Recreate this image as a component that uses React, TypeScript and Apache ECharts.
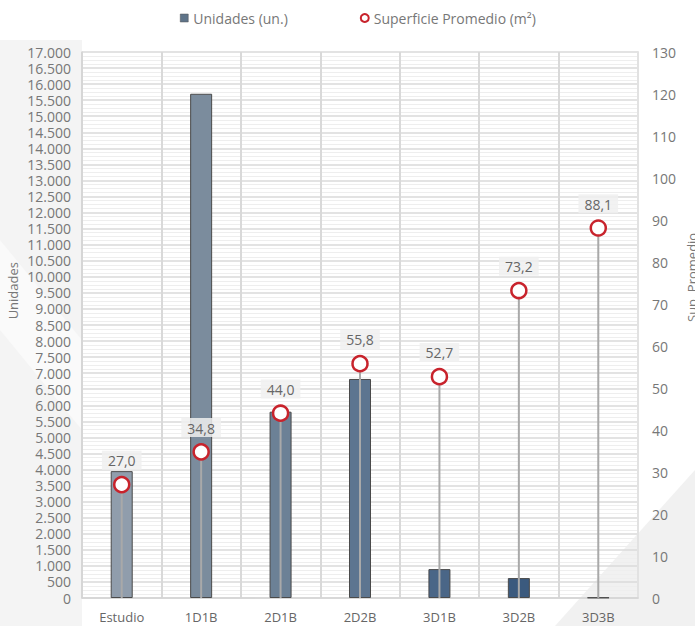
import React, { useEffect, useRef } from "react";
import * as echarts from "echarts";

const categories = ["Estudio", "1D1B", "2D1B", "2D2B", "3D1B", "3D2B", "3D3B"];
const unidades = [3950, 15700, 5800, 6820, 900, 620, 15];
const superficie = [27.0, 34.8, 44.0, 55.8, 52.7, 73.2, 88.1];
const barColors = ["#909dac", "#7b8c9d", "#6c8196", "#5d7590", "#4a6687", "#3b5a7e", "#2f4f74"];
const leftMax = 17000;
const leftInterval = 500;
const rightMax = 130;
const rightInterval = 10;

const fmtThousands = (v: number) => String(v).replace(/\B(?=(\d{3})+(?!\d))/g, ".");
const fmtDec = (v: number) => v.toFixed(1).replace(".", ",");

export default function App() {
  const ref = useRef<HTMLDivElement>(null);
  useEffect(() => {
    if (!ref.current) return;
    const chart = echarts.init(ref.current, undefined, { renderer: "svg" });
    const font = "'Open Sans', 'Noto Sans', sans-serif";
    chart.setOption({
      animation: false,
      backgroundColor: "#ffffff",
      textStyle: { fontFamily: font },
      graphic: [
        {
          type: "polygon",
          z: -10,
          silent: true,
          shape: { points: [[0, 40], [82, 40], [82, 626], [0, 626]] },
          style: { fill: "#f4f4f4" },
        },
        {
          type: "polygon",
          z: -9,
          silent: true,
          shape: { points: [[0, 240], [0, 330], [82, 430], [82, 340]] },
          style: { fill: "#fafafa" },
        },
        {
          type: "polygon",
          z: -10,
          silent: true,
          shape: { points: [[695, 470], [695, 626], [555, 626]] },
          style: { fill: "#f1f1f1" },
        },
        {
          type: "text",
          left: 6,
          top: 262,
          rotation: Math.PI / 2,
          silent: true,
          style: { text: "Unidades", fill: "#777", font: `13px ${font}` },
        },
        {
          type: "text",
          x: 698,
          y: 322,
          rotation: Math.PI / 2,
          silent: true,
          style: { text: "Sup. Promedio", fill: "#777", font: `13px ${font}`, textVerticalAlign: "bottom" },
        },
      ],
      legend: {
        top: 11,
        left: 180,
        itemGap: 72,
        itemWidth: 8,
        itemHeight: 8,
        padding: 0,
        textStyle: { color: "#777", fontSize: 14, fontFamily: font },
        data: [
          { name: "Unidades (un.)", icon: "rect", itemStyle: { color: "#5f7489", borderColor: "#555", borderWidth: 0.5 } },
          { name: "Superficie Promedio (m²)", icon: "circle", itemStyle: { color: "#fff", borderColor: "#c8232c", borderWidth: 2 } },
        ],
      },
      grid: { left: 82, right: 57, top: 52, bottom: 28, containLabel: false },
      xAxis: {
        type: "category",
        data: categories,
        axisTick: { show: false },
        axisLine: { show: true, lineStyle: { color: "#d4d4d4", width: 1.5 } },
        axisLabel: { color: "#666", fontSize: 13, margin: 12, fontFamily: font },
        splitLine: { show: true, interval: 0, lineStyle: { color: "#d9d9d9", width: 2 } },
      },
      yAxis: [
        {
          type: "value",
          min: 0,
          max: leftMax,
          interval: leftInterval,
          axisLine: { show: true, lineStyle: { color: "#d4d4d4", width: 1.5 } },
          axisTick: { show: false },
          axisLabel: {
            color: "#777",
            fontSize: 14,
            lineHeight: 14,
            margin: 11,
            formatter: (v: number) => fmtThousands(v),
            fontFamily: font,
          },
          splitLine: { show: true, lineStyle: { color: "#dadada", width: 1.5 } },
          minorTick: { show: false, splitNumber: 4 },
          minorSplitLine: { show: true, lineStyle: { color: "#eeeeee", width: 1 } },
        },
        {
          type: "value",
          min: 0,
          max: rightMax,
          interval: rightInterval,
          position: "right",
          axisLine: { show: true, lineStyle: { color: "#e2e2e2", width: 2 } },
          axisTick: { show: false },
          axisLabel: { color: "#777", fontSize: 14, margin: 14, fontFamily: font },
          splitLine: { show: false },
        },
      ],
      series: [
        {
          name: "Unidades (un.)",
          type: "bar",
          yAxisIndex: 0,
          barWidth: 22,
          z: 2,
          itemStyle: { color: "#5f7489", borderColor: "#4a4a4a", borderWidth: 1 },
          data: unidades.map((v, i) => ({ value: v, itemStyle: { color: barColors[i] } })),
        },
        {
          name: "drop",
          type: "custom",
          yAxisIndex: 1,
          z: 3,
          silent: true,
          data: superficie.map((v, i) => [i, v]),
          encode: { x: 0, y: 1 },
          renderItem: (params: any, api: any) => {
            const top = api.coord([api.value(0), api.value(1)]);
            const bottom = api.coord([api.value(0), 0]);
            return {
              type: "line",
              shape: { x1: top[0], y1: top[1], x2: bottom[0], y2: bottom[1] },
              style: { stroke: "#a9a9a9", lineWidth: 2 },
            };
          },
        },
        {
          name: "Superficie Promedio (m²)",
          type: "scatter",
          yAxisIndex: 1,
          z: 5,
          symbol: "circle",
          symbolSize: 15,
          itemStyle: { color: "#ffffff", borderColor: "#c8232c", borderWidth: 2.5, opacity: 1 },
          label: {
            show: true,
            position: "top",
            distance: 6,
            formatter: (p: any) => fmtDec(p.value),
            color: "#666",
            fontSize: 14,
            fontFamily: font,
            backgroundColor: "rgba(240,240,240,0.85)",
            padding: [3, 6, 2, 6],
          },
          data: superficie,
        },
      ],
    });
    return () => chart.dispose();
  }, []);
  return <div ref={ref} style={{ width: 695, height: 626, position: "absolute", left: 0, top: 0 }} />;
}
